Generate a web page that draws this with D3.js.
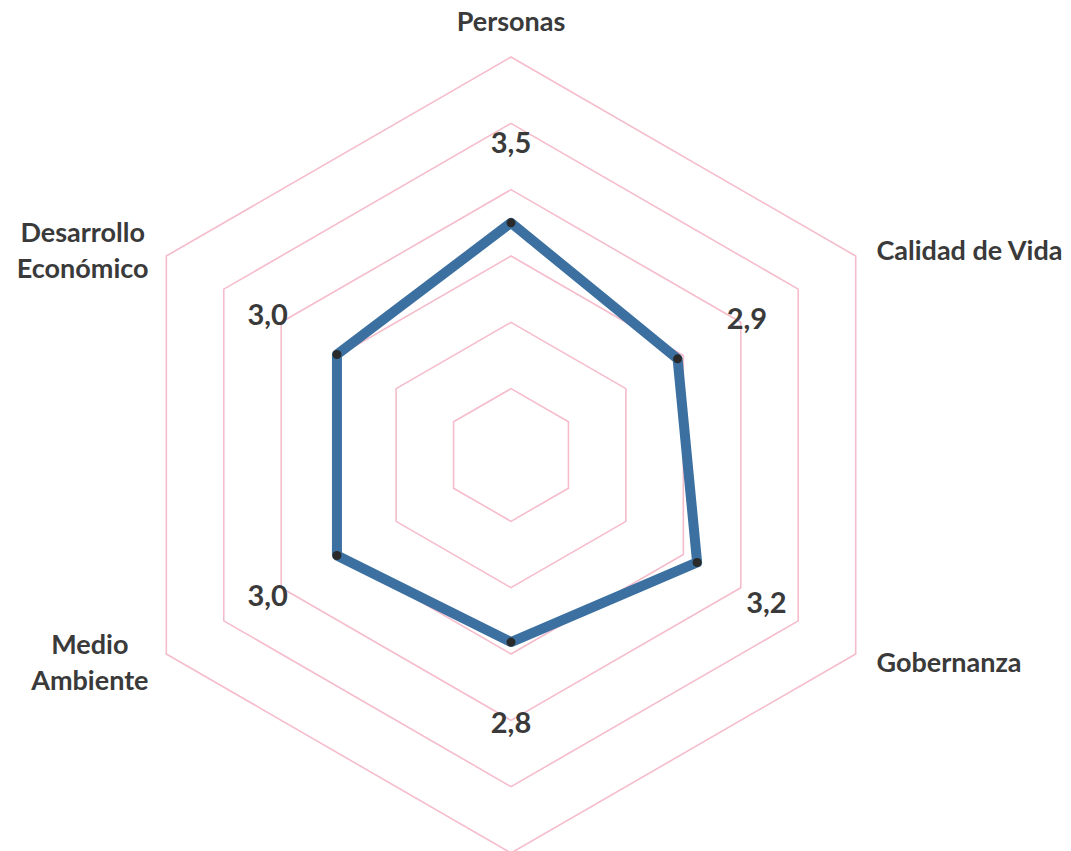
<!DOCTYPE html>
<head>
    <title>Radar</title>
    <script src="https://cdnjs.cloudflare.com/ajax/libs/d3/7.8.5/d3.min.js"></script>
    <style>
        body { margin: 0; background: #fff; }
        text { font-family: Lato, "Open Sans", sans-serif; font-weight: bold; fill: #3a3a3a; }
    </style>
</head>
<body>
    <div id="radar"></div>
    <script type="text/javascript">
        const width = 1071;
        const height = 851;
        const cx = 511;
        const cy = 455;
        const radius = 398;

        // data
        const categories = [["Personas"], ["Calidad de Vida"], ["Gobernanza"], [""], ["Medio", "Ambiente"], ["Desarrollo", "Económico"]];
        const values = [3.5, 2.9, 3.24, 2.82, 3.03, 3.03];
        const levels = [1, 2, 3, 4, 5, 6];

        const svg = d3.select("#radar")
            .append("svg")
            .attr("width", width)
            .attr("height", height);

        const rScale = d3.scaleLinear()
            .domain([0, 6])
            .range([0, radius]);

        const angle = d3.scaleLinear()
            .domain([0, categories.length])
            .range([0, 2 * Math.PI]);

        const px = (i, r) => cx + r * Math.sin(angle(i));
        const py = (i, r) => cy - r * Math.cos(angle(i));

        // grid hexagons
        svg.append("g")
            .attr("class", "grid")
            .selectAll("polygon")
            .data(levels)
            .enter()
            .append("polygon")
            .attr("points", l => categories.map((c, i) => px(i, rScale(l)) + "," + py(i, rScale(l))).join(" "))
            .attr("fill", "none")
            .attr("stroke", "#f5bccb")
            .attr("stroke-width", 1.6);

        // series line
        const line = d3.lineRadial()
            .angle((d, i) => angle(i))
            .radius(d => rScale(d))
            .curve(d3.curveLinearClosed);

        svg.append("path")
            .datum(values)
            .attr("transform", "translate(" + cx + "," + cy + ")")
            .attr("d", line)
            .attr("fill", "none")
            .attr("stroke", "#3b70a0")
            .attr("stroke-width", 10)
            .attr("stroke-linejoin", "round");

        svg.append("g")
            .selectAll("circle")
            .data(values)
            .enter()
            .append("circle")
            .attr("cx", (d, i) => px(i, rScale(d)))
            .attr("cy", (d, i) => py(i, rScale(d)))
            .attr("r", 4.5)
            .attr("fill", "#2a2a2a");

        // value labels
        const fmt = d => d3.format(".1f")(d).replace(".", ",");
        svg.append("g")
            .selectAll("text")
            .data(values)
            .enter()
            .append("text")
            .attr("x", (d, i) => px(i, rScale(d) + 80))
            .attr("y", (d, i) => py(i, rScale(d) + 80))
            .attr("text-anchor", "middle")
            .attr("dy", "0.36em")
            .style("font-size", "29px")
            .text(d => fmt(d));

        // axis labels
        const lab = svg.append("g")
            .selectAll("text")
            .data(categories)
            .enter()
            .append("text")
            .style("font-size", "27px")
            .attr("text-anchor", "middle");

        lab.selectAll("tspan")
            .data(d => d)
            .enter()
            .append("tspan")
            .attr("x", 0)
            .attr("dy", (d, j) => j === 0 ? 0 : 36)
            .text(d => d);

        lab.each(function(d, i) {
            const el = d3.select(this);
            const b = this.getBBox();
            const x = px(i, radius + 24);
            const y = py(i, radius + 14);
            let tx, ty;
            const mid = -(b.y + b.height / 2);
            if (i === 0) { tx = x; ty = cy - radius - 26; }
            else if (Math.sin(angle(i)) > 0.01) { tx = x - b.x; ty = y + mid; }
            else if (Math.sin(angle(i)) < -0.01) { tx = x + 3 - (b.x + b.width); ty = y + mid; }
            else { tx = x; ty = y - b.y + 6; }
            el.attr("transform", "translate(" + tx + "," + ty + ")");
        });
    </script>
</body>
